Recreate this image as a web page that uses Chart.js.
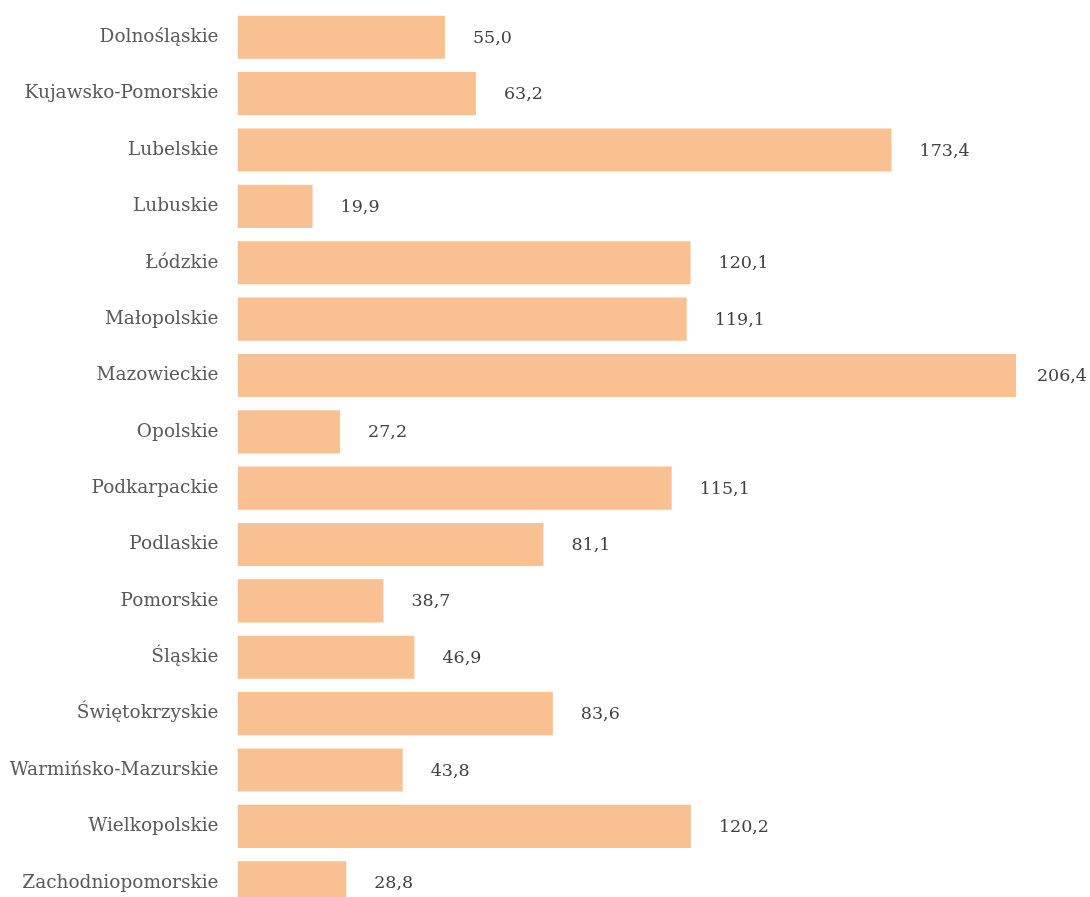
<!DOCTYPE html>
<html>
<head>
<meta charset="utf-8">
<script src="https://cdn.jsdelivr.net/npm/chart.js@4"></script>
<style>
  html, body { margin: 0; padding: 0; background: #fff; overflow: hidden; }
  #wrap { position: relative; width: 1090px; height: 962px; margin-top: -21px; }
</style>
</head>
<body>
<div id="wrap"><canvas id="chart"></canvas></div>
<script>
const wojewodztwa = [
    'Dolnośląskie', 'Kujawsko-Pomorskie', 'Lubelskie', 'Lubuskie', 'Łódzkie',
    'Małopolskie', 'Mazowieckie', 'Opolskie', 'Podkarpackie', 'Podlaskie',
    'Pomorskie', 'Śląskie', 'Świętokrzyskie', 'Warmińsko-Mazurskie',
    'Wielkopolskie', 'Zachodniopomorskie'
];
const wartosci = [55.0, 63.2, 173.4, 19.9, 120.1, 119.1, 206.4, 27.2, 115.1, 81.1, 38.7, 46.9, 83.6, 43.8, 120.2, 28.8];

const FONT = "'DejaVu Serif', 'Liberation Serif', serif";

// etykiety wartości po prawej stronie słupków (przesunięte, gdy nie mieszczą się)
const etykietyWartosci = {
    id: 'etykietyWartosci',
    afterDatasetsDraw(chart) {
        const ctx = chart.ctx;
        const meta = chart.getDatasetMeta(0);
        ctx.save();
        ctx.font = '17.5px ' + FONT;
        ctx.fillStyle = '#404040';
        ctx.textAlign = 'left';
        ctx.textBaseline = 'middle';
        meta.data.forEach((bar, i) => {
            const txt = wartosci[i].toFixed(1).replace('.', ',');
            const w = ctx.measureText(txt).width;
            const x = Math.min(bar.x + 28, chart.width - 3 - w);
            ctx.fillText(txt, x, bar.y + 1);
        });
        ctx.restore();
    }
};

new Chart(document.getElementById('chart'), {
    type: 'bar',
    data: {
        labels: wojewodztwa,
        datasets: [{
            data: wartosci,
            backgroundColor: '#F9C191',
            borderWidth: 0,
            barPercentage: 0.765,
            categoryPercentage: 1
        }]
    },
    options: {
        indexAxis: 'y',
        responsive: true,
        maintainAspectRatio: false,
        animation: false,
        layout: { autoPadding: false, padding: { top: 0, bottom: 0, left: 0, right: 0 } },
        plugins: { legend: { display: false }, tooltip: { enabled: false } },
        scales: {
            x: {
                display: false,
                min: 0,
                max: 226
            },
            y: {
                grid: { display: false, drawTicks: false },
                border: { display: false },
                ticks: {
                    color: '#595959',
                    font: { family: FONT, size: 18.5 },
                    padding: 19
                },
                afterFit(scale) { scale.width = 237.5; }
            }
        }
    },
    plugins: [etykietyWartosci]
});
</script>
</body>
</html>
